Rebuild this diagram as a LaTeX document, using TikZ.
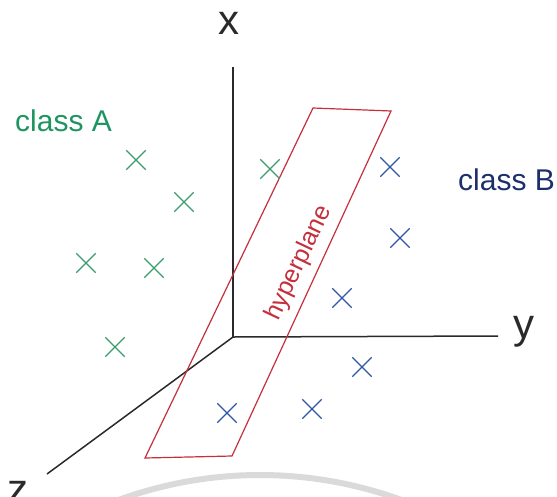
\documentclass[tikz,border=0pt]{standalone}
\usepackage{fontspec}
\setmainfont{Liberation Sans}
\usetikzlibrary{shapes.misc}
\usepackage{xcolor}
\definecolor{axisgray}{HTML}{2A2A2A}
\definecolor{greenA}{HTML}{1E9560}
\definecolor{greenX}{HTML}{3A9E6C}
\definecolor{navyB}{HTML}{1C2F6C}
\definecolor{blueX}{HTML}{2F56A6}
\definecolor{planered}{HTML}{C4303C}
\definecolor{wmgray}{HTML}{DADADA}

\begin{document}
\begin{tikzpicture}[
  x=1pt, y=-1pt,
  axis/.style={draw=axisgray, line width=1.5pt},
  axlabel/.style={anchor=base, inner sep=0pt, text=axisgray, font=\fontsize{42}{42}\selectfont},
  classlbl/.style={anchor=base west, inner sep=0pt, font=\fontsize{30}{30}\selectfont},
  crossbase/.style={cross out, draw, minimum size=18pt, inner sep=0pt, line width=1.3pt},
  crossA/.style={crossbase, draw=greenX},
  crossB/.style={crossbase, draw=blueX},
  plane/.style={draw=planered, line width=1.2pt}
]
\useasboundingbox (0,0) rectangle (557,496);
\clip (0,0) rectangle (557,496);

% ---- background mark ----
\draw[wmgray, line width=6pt] (260,888) ++(250:413) arc[start angle=250, end angle=290, radius=413];

% ---- axes ----
\coordinate (o) at (233,337);
\coordinate (xend) at (233,67);
\coordinate (yend) at (498,336);
\coordinate (zend) at (47,474);

\draw[axis] (o) -- (xend);
\draw[axis] (o) -- (yend);
\draw[axis] (o) -- (zend);

\node[axlabel] (xl) at (229,34) {x};
\node[axlabel] (yl) at (524,338) {y};
\node[axlabel] (zl) at (18,503) {z};

% ---- hyperplane ----
\coordinate (p1) at (313,108);
\coordinate (p2) at (391,111);
\coordinate (p3) at (232,456);
\coordinate (p4) at (145,458);
\draw[plane] (p1) -- (p2) -- (p3) -- (p4) -- cycle;

\node[rotate=64.7, text=planered, inner sep=0pt, font=\fontsize{25}{25}\selectfont] (hp) at (299,263) {hyperplane};

% ---- class A ----
\node[classlbl, text=greenA] (ca) at (15,131) {class A};
\node[crossA] (a1) at (136,160) {};
\node[crossA] (a2) at (184,202) {};
\node[crossA] (a3) at (270,169) {};
\node[crossA] (a4) at (86,263) {};
\node[crossA] (a5) at (154,268) {};
\node[crossA] (a6) at (115,347) {};

% ---- class B ----
\node[classlbl, text=navyB] (cb) at (458,190) {class B};
\node[crossB] (b1) at (390,167) {};
\node[crossB] (b2) at (400,238) {};
\node[crossB] (b3) at (342,298) {};
\node[crossB] (b4) at (362,367) {};
\node[crossB] (b5) at (312,409) {};
\node[crossB] (b6) at (227,413) {};

\end{tikzpicture}
\end{document}
